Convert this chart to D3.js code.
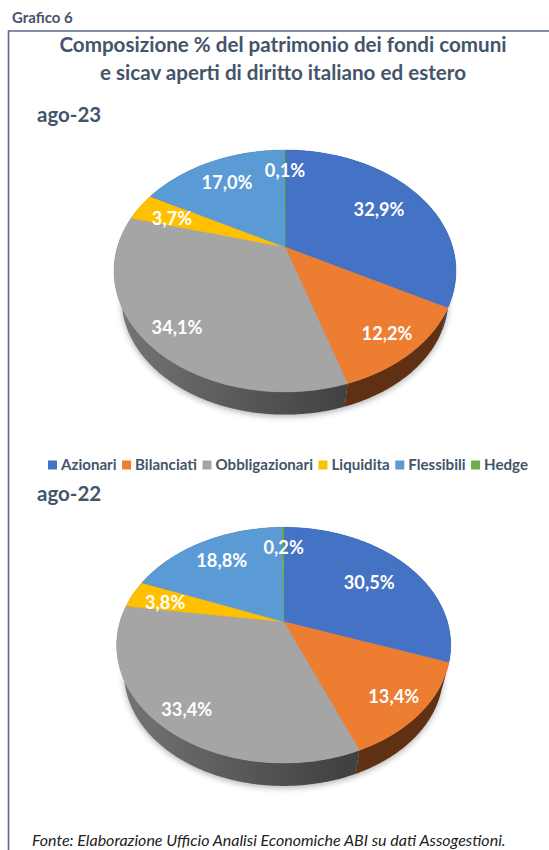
<!DOCTYPE html>
<html lang="it">
<head>
<meta charset="utf-8">
<title>Grafico 6</title>
<script src="https://cdn.jsdelivr.net/npm/d3@7"></script>
<style>
  html, body { margin: 0; padding: 0; background: #fff; }
  svg { display: block; }
  text { font-family: Lato, "Open Sans", sans-serif; }
</style>
</head>
<body>
<script>
// Fund categories and their share of assets, in percent
const categories = ["Azionari", "Bilanciati", "Obbligazionari", "Liquidita", "Flessibili", "Hedge"];
const valuesAgo23 = [32.9, 12.2, 34.1, 3.7, 17.0, 0.1];
const valuesAgo22 = [30.5, 13.4, 33.4, 3.8, 18.8, 0.2];
const colors = ["#4472c4", "#ed7d31", "#a5a5a5", "#ffc000", "#5b9bd5", "#70ad47"];

// Each pie is a tilted disc: apex, half sizes and perspective strength
const pieLayouts = [
  { label: "ago-23", labelY: 122, values: valuesAgo23, cx: 285, cy: 247, a: 116.2, b: 167.6, k: 0.198,
    labelOffsets: [[94, -37], [102, 87], [-108, 81], [-113, -28], [-58, -64], [0, -76]] },
  { label: "ago-22", labelY: 501, values: valuesAgo22, cx: 283.7, cy: 621.7, a: 113.2, b: 163.7, k: 0.199,
    labelOffsets: [[85.5, -39], [110, 75], [-97, 88], [-118.5, -19], [-62, -61], [0, -74]] }
];

const width = 549, height = 850;
const wallScale = 0.955;   // the underside of the disc is slightly smaller
const vanishDepth = 650;   // distance from apex to the point the walls converge on

const svg = d3.select("body").append("svg").attr("width", width).attr("height", height);
const defs = svg.append("defs");
defs.append("filter").attr("id", "soft")
  .attr("x", "-10%").attr("y", "-10%").attr("width", "120%").attr("height", "120%")
  .append("feGaussianBlur").attr("stdDeviation", 3);

// Frame
const frameColor = "#5a6b88";
svg.append("path")
  .attr("d", d3.line()([[8.5, height], [8.5, 31], [width, 31]]))
  .attr("fill", "none").attr("stroke", frameColor).attr("stroke-width", 1.6);

const inkColor = "#44546a";
svg.append("text").attr("x", 12).attr("y", 23)
  .attr("font-size", 15).attr("font-weight", 700).attr("fill", inkColor).text("Grafico 6");

const titleLines = ["Composizione % del patrimonio dei fondi comuni", "e sicav aperti di diritto italiano ed estero"];
svg.selectAll("text.title").data(titleLines).join("text")
  .attr("class", "title")
  .attr("x", 283).attr("y", (d, i) => 52 + i * 28)
  .attr("text-anchor", "middle")
  .attr("font-size", 20.6).attr("font-weight", 700).attr("fill", inkColor)
  .text(d => d);

// Angles come from d3.pie, the tilted outline from a projective map of the unit circle
const pieGen = d3.pie().sort(null).startAngle(0).endAngle(2 * Math.PI);

function drawPie(layout, index) {
  const g = svg.append("g");
  const { cx, cy, a, b, k } = layout;

  const top = t => {
    const X = Math.sin(t), Y = Math.cos(t), w = 1 + k * Y;
    return [cx + b * X / w, cy - a * Y / w];
  };
  const vanishY = cy + vanishDepth;
  const under = t => {
    const [x, y] = top(t);
    return [cx + wallScale * (x - cx), vanishY + wallScale * (y - vanishY)];
  };
  const sampleAngles = (t0, t1) => {
    const n = Math.max(2, Math.ceil((t1 - t0) / 0.01));
    return d3.range(n + 1).map(i => t0 + (t1 - t0) * i / n);
  };
  const line = d3.line().curve(d3.curveLinear);
  const arcs = pieGen(layout.values);
  const full = sampleAngles(0, 2 * Math.PI);

  // Soft shadow below the disc
  g.append("path")
    .attr("d", line(full.map(under)) + "Z")
    .attr("transform", "translate(0,2)")
    .attr("fill", "#000").attr("opacity", 0.3)
    .attr("filter", "url(#soft)");

  // Side wall shading
  const gradId = "wall-grey-" + index;
  const grad = defs.append("linearGradient").attr("id", gradId)
    .attr("gradientUnits", "userSpaceOnUse")
    .attr("x1", cx - b).attr("x2", cx + 60).attr("y1", 0).attr("y2", 0);
  grad.append("stop").attr("offset", 0).attr("stop-color", "#757575");
  grad.append("stop").attr("offset", 1).attr("stop-color", "#414141");
  const wallFill = c => c === colors[2] ? `url(#${gradId})` : d3.color(c).darker(1.75).formatHex();

  g.selectAll("path.wall").data(arcs).join("path")
    .attr("class", "wall")
    .attr("d", d => {
      const ts = sampleAngles(d.startAngle, d.endAngle);
      return line(ts.map(top).concat(ts.slice().reverse().map(under))) + "Z";
    })
    .attr("fill", (d, i) => i === 1 ? "#5f3112" : wallFill(colors[i]));

  // Top face
  g.selectAll("path.face").data(arcs).join("path")
    .attr("class", "face")
    .attr("d", d => line([[cx, cy]].concat(sampleAngles(d.startAngle, d.endAngle).map(top))) + "Z")
    .attr("fill", (d, i) => colors[i])
    .attr("stroke", (d, i) => colors[i]).attr("stroke-width", 0.4);

  // Value labels
  g.selectAll("text.value").data(arcs).join("text")
    .attr("class", "value")
    .attr("x", (d, i) => cx + layout.labelOffsets[i][0])
    .attr("y", (d, i) => cy + layout.labelOffsets[i][1])
    .attr("dy", "0.35em").attr("text-anchor", "middle")
    .attr("font-size", 18.2).attr("font-weight", 700).attr("fill", "#fff")
    .text(d => d3.format(".1f")(d.value).replace(".", ",") + "%");

  // Period heading
  svg.append("text").attr("x", 37).attr("y", layout.labelY)
    .attr("font-size", 20.5).attr("font-weight", 700).attr("fill", inkColor)
    .text(layout.label);
}
pieLayouts.forEach(drawPie);

// Legend, laid out left to right from the measured label widths
const legend = svg.append("g").attr("transform", "translate(48,465)");
let legendX = 0;
categories.forEach((name, i) => {
  legend.append("rect").attr("x", legendX).attr("y", -4.5).attr("width", 9).attr("height", 9).attr("fill", colors[i]);
  const t = legend.append("text").attr("x", legendX + 13).attr("y", 0).attr("dy", "0.35em")
    .attr("font-size", 15.1).attr("font-weight", 700).attr("fill", inkColor).text(name);
  legendX += 13 + t.node().getComputedTextLength() + 5.5;
});

// Source note
svg.append("text").attr("x", 32).attr("y", 846)
  .attr("font-size", 16).attr("font-style", "italic").attr("fill", "#222")
  .text("Fonte: Elaborazione Ufficio Analisi Economiche ABI su dati Assogestioni.");
</script>
</body>
</html>
